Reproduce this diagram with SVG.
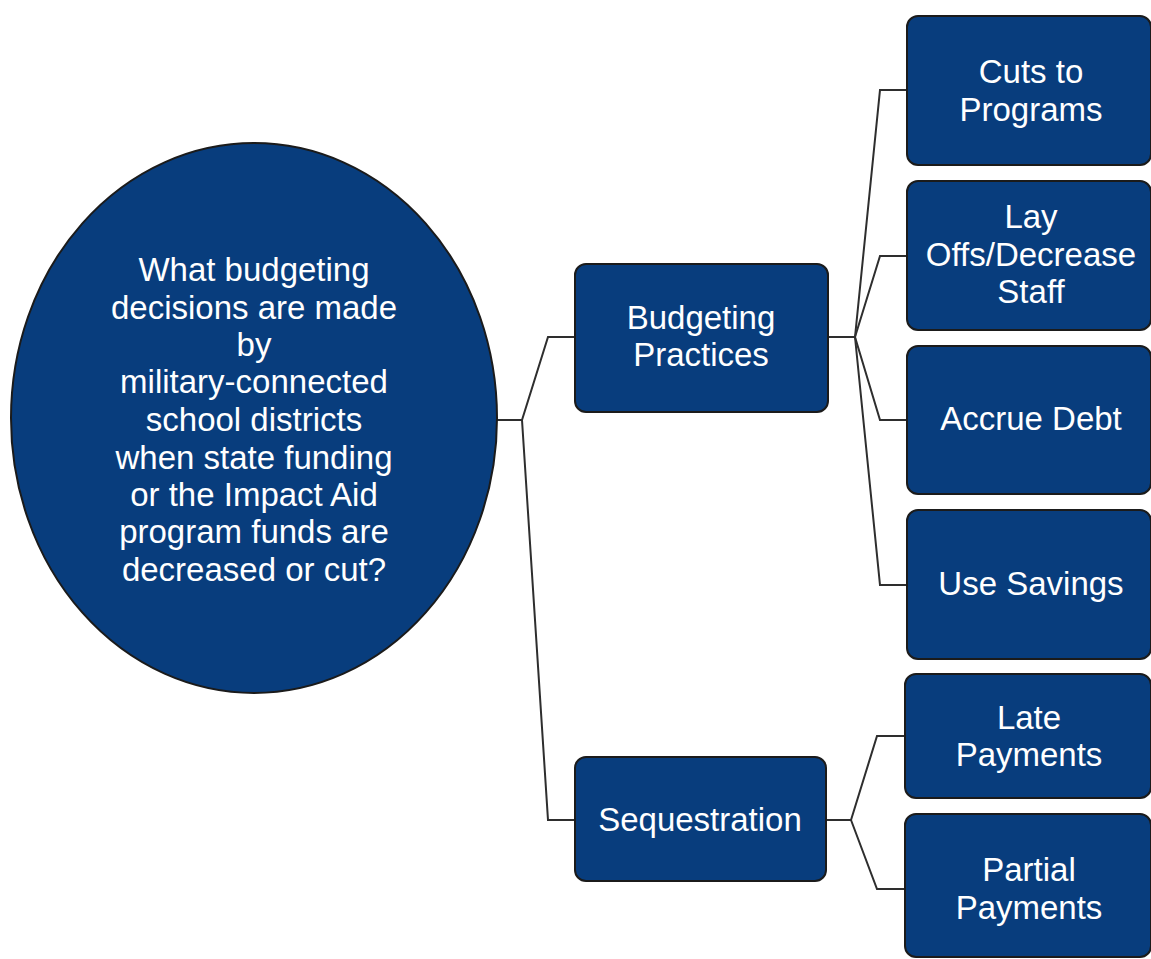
<svg xmlns="http://www.w3.org/2000/svg" width="1151" height="959" viewBox="0 0 1151 959">
  <style>
    .node { fill: #083d7d; stroke: #1b1b1b; stroke-width: 2; }
    .label { fill: #ffffff; font-family: "Liberation Sans", Arial, sans-serif; font-size: 33px; text-anchor: middle; }
    .link { fill: none; stroke: #2e2e2e; stroke-width: 2; stroke-linejoin: miter; }
  </style>
  <rect width="1151" height="959" fill="#ffffff"/>

  <g id="connectors">
    <path class="link" d="M497,420 H522 L548,337 H575"/>
    <path class="link" d="M522,420 L548,820 H575"/>
    <path class="link" d="M828,337 H855 L880,90 H907"/>
    <path class="link" d="M855,337 L880,256 H907"/>
    <path class="link" d="M855,337 L880,420 H907"/>
    <path class="link" d="M855,337 L880,585 H907"/>
    <path class="link" d="M826,820 H851 L877,736 H907"/>
    <path class="link" d="M851,820 L877,889 H907"/>
  </g>

  <g id="question">
    <ellipse class="node" cx="254" cy="418" rx="243" ry="275"/>
    <text class="label"><tspan x="254" y="281">What budgeting</tspan><tspan x="254" y="319">decisions are made</tspan><tspan x="254" y="356">by</tspan><tspan x="254" y="393">military-connected</tspan><tspan x="254" y="431">school districts</tspan><tspan x="254" y="469">when state funding</tspan><tspan x="254" y="506">or the Impact Aid</tspan><tspan x="254" y="543">program funds are</tspan><tspan x="254" y="581">decreased or cut?</tspan></text>
  </g>

  <g id="budgeting-practices">
    <rect class="node" x="575" y="264" width="253" height="148" rx="11"/>
    <text class="label"><tspan x="701" y="329">Budgeting</tspan><tspan x="701" y="366">Practices</tspan></text>
  </g>

  <g id="sequestration">
    <rect class="node" x="575" y="757" width="251" height="124" rx="11"/>
    <text class="label" x="700" y="831">Sequestration</text>
  </g>

  <g id="cuts-to-programs">
    <rect class="node" x="907" y="16" width="244" height="149" rx="11"/>
    <text class="label"><tspan x="1031" y="83">Cuts to</tspan><tspan x="1031" y="121">Programs</tspan></text>
  </g>

  <g id="lay-offs">
    <rect class="node" x="907" y="181" width="244" height="149" rx="11"/>
    <text class="label"><tspan x="1031" y="228">Lay</tspan><tspan x="1031" y="266">Offs/Decrease</tspan><tspan x="1031" y="303">Staff</tspan></text>
  </g>

  <g id="accrue-debt">
    <rect class="node" x="907" y="346" width="244" height="148" rx="11"/>
    <text class="label" x="1031" y="430">Accrue Debt</text>
  </g>

  <g id="use-savings">
    <rect class="node" x="907" y="510" width="244" height="149" rx="11"/>
    <text class="label" x="1031" y="595">Use Savings</text>
  </g>

  <g id="late-payments">
    <rect class="node" x="905" y="674" width="246" height="124" rx="11"/>
    <text class="label"><tspan x="1029" y="729">Late</tspan><tspan x="1029" y="766">Payments</tspan></text>
  </g>

  <g id="partial-payments">
    <rect class="node" x="905" y="814" width="246" height="143" rx="11"/>
    <text class="label"><tspan x="1029" y="881">Partial</tspan><tspan x="1029" y="919">Payments</tspan></text>
  </g>
</svg>
